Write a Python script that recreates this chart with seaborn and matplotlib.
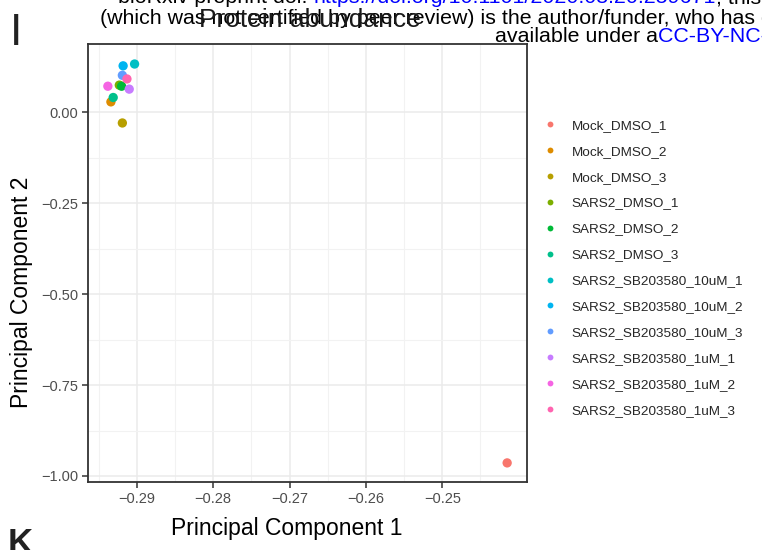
import matplotlib
matplotlib.use("Agg")
import matplotlib.pyplot as plt
from matplotlib.lines import Line2D
import seaborn as sns
import pandas as pd

samples = ["Mock_DMSO_1", "Mock_DMSO_2", "Mock_DMSO_3",
           "SARS2_DMSO_1", "SARS2_DMSO_2", "SARS2_DMSO_3",
           "SARS2_SB203580_10uM_1", "SARS2_SB203580_10uM_2", "SARS2_SB203580_10uM_3",
           "SARS2_SB203580_1uM_1", "SARS2_SB203580_1uM_2", "SARS2_SB203580_1uM_3"]
pc1 = [-0.2415, -0.2934, -0.2919, -0.2923, -0.2920, -0.2931,
       -0.2903, -0.2918, -0.2919, -0.2910, -0.2938, -0.2913]
pc2 = [-0.964, 0.028, -0.030, 0.074, 0.071, 0.040,
       0.132, 0.127, 0.101, 0.063, 0.071, 0.091]
colors = ["#F8766D", "#DE8C00", "#B79F00", "#7CAE00", "#00BA38", "#00C08B",
          "#00BFC4", "#00B4F0", "#619CFF", "#C77CFF", "#F564E3", "#FF64B0"]
xticks = [-0.29, -0.28, -0.27, -0.26, -0.25]
yticks = [0.00, -0.25, -0.50, -0.75, -1.00]

df = pd.DataFrame({"sample": samples, "PC1": pc1, "PC2": pc2})

sns.set_theme(style="white")
plt.rcParams["font.family"] = ["Liberation Sans", "DejaVu Sans"]

W, H = 762, 550
fig = plt.figure(figsize=(W / 100, H / 100), dpi=100)

def fx(x):
    return x / W

def fy(y):
    return 1 - y / H

ax = fig.add_axes([fx(88), fy(482), (527 - 88) / W, (482 - 44) / H])
ax.set_facecolor("white")

sns.scatterplot(data=df, x="PC1", y="PC2", hue="sample", hue_order=samples,
                palette=colors, s=45, linewidth=0, legend=False, ax=ax, zorder=3)

ax.set_xlim(-0.2964, -0.2389)
ax.set_ylim(-1.0165, 0.187)
ax.set_xticks(xticks)
ax.set_xticklabels(["\u2212%.2f" % abs(v) for v in xticks])
ax.set_yticks(yticks)
ax.set_yticklabels([("\u2212%.2f" % abs(v)) if v < 0 else "%.2f" % v for v in yticks])
ax.set_xticks([-0.295, -0.285, -0.275, -0.265, -0.255, -0.245], minor=True)
ax.set_yticks([-0.125, -0.375, -0.625, -0.875], minor=True)
ax.grid(True, which="major", color="#EBEBEB", linewidth=1.1, zorder=0)
ax.grid(True, which="minor", color="#F2F2F2", linewidth=0.8, zorder=0)
ax.set_axisbelow(True)
for sp in ax.spines.values():
    sp.set_color("#333333")
    sp.set_linewidth(1.3)
ax.tick_params(axis="both", which="major", length=4, width=1.1, color="#333333",
               labelsize=10.5, labelcolor="#4D4D4D", pad=3, bottom=True, left=True)
ax.tick_params(axis="both", which="minor", length=0)
ax.set_xlabel("Principal Component 1", fontsize=16.5, color="black")
ax.set_ylabel("Principal Component 2", fontsize=16.5, color="black")
ax.xaxis.set_label_coords((286.5 - 88) / 439, -(535 - 482) / 438)
ax.xaxis.label.set_va("baseline")
ax.yaxis.set_label_coords(-(88 - 10) / 439, (482 - 292.5) / 438)
ax.yaxis.label.set_va("top")

# legend
handles = [Line2D([0], [0], marker="o", linestyle="", markersize=4.2,
                  markerfacecolor=c, markeredgewidth=0) for c in colors]
leg = fig.legend(handles, samples, loc="upper left",
                 bbox_to_anchor=(fx(538), fy(114)), frameon=False,
                 fontsize=9.7, handlelength=1.0, handletextpad=1.1,
                 labelspacing=1.0, borderaxespad=0)

# header text from page (overlapping)
fs_h = 15.4
renderer = fig.canvas.get_renderer()

def chain(x0, ybase, parts):
    x = x0
    for txt, col in parts:
        t = fig.text(fx(x), fy(ybase), txt, fontsize=fs_h, va="baseline", color=col)
        bb = t.get_window_extent(renderer=renderer)
        x = x + bb.width

chain(118, 3, [("bioRxiv preprint doi: ", "black"),
               ("https://doi.org/10.1101/2020.08.20.259671", "#0000FF"),
               (", this", "black")])
chain(100, 24, [("(which was not certified by peer review) is the author/funder, who has granted", "black")])
chain(495, 42, [("available under a", "black"), ("CC-BY-NC-ND 4.0", "#0000FF")])

fig.text(fx(310), fy(27), "Protein abundance", fontsize=19, va="baseline", ha="center", color="#1A1A1A")
fig.text(fx(10), fy(45), "I", fontsize=32, va="baseline", color="#222222")
fig.text(fx(8), fy(553), "K", fontsize=25, va="baseline", color="#222222", fontweight="bold")

fig.savefig("out.png", dpi=100)
